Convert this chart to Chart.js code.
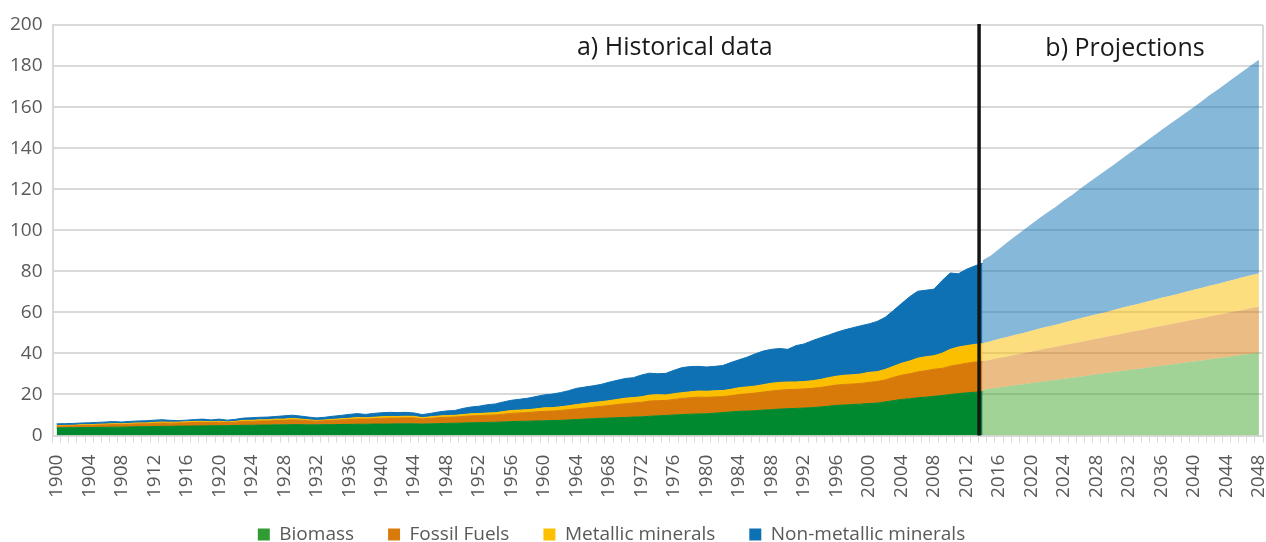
<!DOCTYPE html>
<html><head><meta charset="utf-8">
<script src="https://cdn.jsdelivr.net/npm/chart.js@4.4.1/dist/chart.umd.min.js"></script>
<style>html,body{margin:0;padding:0;background:#fff;overflow:hidden}</style>
</head><body>
<canvas id="c" width="1266" height="542"></canvas>
<script>
// ---- categories ----
const firstYear = 1900, lastYear = 2048;
const years = [];
for (let y = firstYear; y <= lastYear; y++) years.push(String(y));
const histYears = years.slice(0, 115);   // 1900..2014
const projYears = years.slice(114);      // 2014..2048

// ---- historical series (Gt), 1900..2014 ----
const histBiomass = [
 3.7,3.8,3.8,3.9,3.9,4.0,4.0,4.1,4.1,4.2,
 4.3,4.3,4.4,4.5,4.5,4.6,4.6,4.7,4.7,4.8,
 4.8,4.8,4.9,5.0,5.0,5.1,5.1,5.2,5.2,5.3,
 5.3,5.2,5.2,5.3,5.3,5.4,5.4,5.5,5.5,5.6,
 5.6,5.6,5.7,5.7,5.7,5.6,5.7,5.8,5.9,6.0,
 6.1,6.2,6.3,6.4,6.5,6.6,6.8,6.9,7.0,7.1,
 7.2,7.3,7.4,7.6,7.8,8.0,8.2,8.4,8.5,8.7,
 8.8,9.0,9.1,9.4,9.6,9.8,10.0,10.2,10.4,10.5,
 10.6,10.9,11.2,11.5,11.8,11.9,12.1,12.4,12.6,12.9,
 13.1,13.2,13.4,13.6,13.9,14.3,14.7,14.9,15.1,15.3,
 15.6,15.8,16.4,17.0,17.6,17.9,18.4,18.7,19.1,19.5,
 20.0,20.4,20.8,21.1,21.3];
const histFossil = [
 0.8,0.85,0.9,1.0,1.0,1.1,1.2,1.3,1.2,1.3,
 1.4,1.4,1.5,1.6,1.5,1.5,1.6,1.7,1.7,1.5,
 1.7,1.5,1.6,1.9,1.9,2.0,2.0,2.2,2.2,2.4,
 2.2,2.0,1.8,1.9,2.1,2.2,2.4,2.6,2.5,2.6,
 2.8,2.9,2.8,2.9,2.9,2.5,2.7,2.9,3.0,3.0,
 3.2,3.4,3.4,3.5,3.5,3.8,4.0,4.1,4.2,4.4,
 4.6,4.6,4.8,5.0,5.2,5.4,5.6,5.8,6.1,6.4,
 6.7,6.9,7.1,7.4,7.4,7.3,7.6,7.9,8.0,8.2,
 8.0,7.9,7.8,7.9,8.2,8.4,8.6,8.8,9.1,9.2,
 9.3,9.3,9.3,9.4,9.5,9.7,9.9,10.0,10.0,10.1,
 10.3,10.5,10.7,11.3,11.8,12.2,12.6,12.9,13.2,13.2,
 13.8,14.1,14.4,14.7,14.8];
const histMetallic = [
 0.3,0.3,0.3,0.35,0.35,0.4,0.4,0.4,0.4,0.4,
 0.45,0.45,0.5,0.5,0.45,0.45,0.5,0.5,0.5,0.4,
 0.45,0.35,0.4,0.5,0.5,0.55,0.55,0.6,0.6,0.65,
 0.55,0.45,0.35,0.4,0.5,0.55,0.6,0.7,0.65,0.7,
 0.75,0.8,0.8,0.8,0.75,0.6,0.7,0.8,0.85,0.85,
 0.9,1.0,1.0,1.1,1.1,1.3,1.4,1.4,1.4,1.5,
 1.7,1.7,1.8,1.9,2.1,2.2,2.3,2.3,2.4,2.5,
 2.7,2.6,2.7,2.9,2.9,2.7,2.8,2.8,2.9,3.0,
 3.0,3.0,2.9,3.1,3.3,3.4,3.4,3.6,3.8,3.8,
 3.7,3.6,3.6,3.7,3.9,4.2,4.3,4.5,4.5,4.6,
 4.9,4.8,5.1,5.4,5.8,6.2,6.7,6.8,6.6,7.4,
 8.2,8.6,8.6,8.6,8.7];
const histNonMetallic = [
 0.9,0.85,0.9,0.85,0.95,0.9,1.0,1.0,0.9,1.0,
 0.95,1.05,1.1,1.1,0.95,0.75,0.8,0.9,1.1,0.9,
 1.05,0.85,1.0,1.1,1.3,1.25,1.35,1.3,1.6,1.55,
 1.45,1.35,1.25,1.3,1.5,1.65,1.9,1.9,1.65,1.9,
 1.95,2.0,1.9,1.9,1.65,1.5,1.7,2.0,2.25,2.35,
 3.0,3.3,3.6,4.0,4.3,4.7,5.0,5.3,5.6,6.0,
 6.3,6.6,6.9,7.3,7.9,8.0,8.1,8.4,9.0,9.3,
 9.6,9.7,10.6,10.7,10.2,10.5,11.4,12.2,12.3,12.0,
 11.8,11.9,12.2,13.1,13.6,14.5,15.7,16.4,16.5,16.5,
 15.9,17.7,18.3,19.5,20.3,20.7,21.4,22.1,22.9,23.5,
 23.6,24.5,25.4,27.2,29.1,31.3,32.6,32.4,32.4,35.4,
 37.2,35.7,37.2,38.2,39.2];

// ---- projection series (Gt), 2014..2048 ----
const projBiomass = [
 22.3,22.8,23.4,23.9,24.5,25.0,25.6,26.1,26.6,27.1,
 27.7,28.2,28.7,29.3,29.8,30.3,30.8,31.4,31.9,32.4,
 32.9,33.5,34.0,34.5,35.0,35.6,36.1,36.6,37.2,37.7,
 38.2,38.8,39.3,39.9,40.4];
const projFossil = [
 13.9,14.1,14.4,14.6,14.9,15.1,15.4,15.6,15.9,16.1,
 16.4,16.6,16.9,17.1,17.4,17.6,17.9,18.1,18.4,18.6,
 18.9,19.1,19.4,19.6,19.9,20.1,20.4,20.6,20.9,21.1,
 21.4,21.6,21.9,22.1,22.3];
const projMetallic = [
 8.8,9.0,9.3,9.5,9.7,9.9,10.1,10.4,10.6,10.8,
 11.0,11.2,11.5,11.7,11.9,12.1,12.3,12.6,12.8,13.0,
 13.2,13.4,13.7,13.9,14.1,14.3,14.5,14.8,15.0,15.2,
 15.4,15.6,15.9,16.1,16.3];
const projNonMetallic = [
 40.4,41.8,43.8,46.0,48.0,50.0,52.0,53.9,55.7,57.5,
 59.4,61.2,63.1,65.0,66.8,68.7,70.6,72.4,74.3,76.2,
 78.0,79.9,81.8,83.6,85.4,87.3,89.1,91.0,92.9,94.7,
 96.6,98.5,100.3,102.2,104.1];

const seriesNames = ['Biomass','Fossil Fuels','Metallic minerals','Non-metallic minerals'];
const yTicks = [0,20,40,60,80,100,120,140,160,180,200];
const panelTitles = ['a) Historical data', 'b) Projections'];

const darkColors  = ['#00892F','#D77A0A','#FBBF00','#0E71B4'];
const lightColors = ['rgba(69,167,45,0.5)','rgba(215,122,10,0.5)','rgba(251,190,0,0.5)','rgba(14,113,180,0.5)'];
const legendColors = ['#339B33','#D97B0B','#FBC000','#0E71B4'];

const pts = (yrs, vals) => vals.map((v, i) => ({x: yrs[i], y: v}));
const histData = [histBiomass, histFossil, histMetallic, histNonMetallic];
const projData = [projBiomass, projFossil, projMetallic, projNonMetallic];

const datasets = [];
histData.forEach((arr, i) => datasets.push({
  label: seriesNames[i], data: pts(histYears, arr), stack: 'hist',
  backgroundColor: darkColors[i], borderColor: darkColors[i], borderWidth: 1,
  fill: i === 0 ? 'origin' : '-1', pointRadius: 0, tension: 0
}));
projData.forEach((arr, i) => datasets.push({
  label: seriesNames[i] + ' (projection)', data: pts(projYears, arr), stack: 'proj',
  backgroundColor: lightColors[i], borderColor: 'rgba(0,0,0,0)', borderWidth: 0,
  fill: i === 0 ? 'origin' : '-1', pointRadius: 0, tension: 0
}));

const FONT = "'Open Sans', sans-serif";
const GRID = '#d9d9d9';
const TXT = '#595959';

const decor = {
  id: 'decor',
  afterLayout(chart) {
    const lg = chart.legend;
    if (lg) {
      lg.top -= 19; lg.bottom -= 19;
      lg.left = 0; lg.right = 1223;
    }
  },
  beforeDatasetsDraw(chart) {
    const {ctx, chartArea: a} = chart;
    ctx.save();
    ctx.strokeStyle = GRID; ctx.lineWidth = 2;
    ctx.beginPath(); ctx.moveTo(a.right, a.top); ctx.lineTo(a.right, a.bottom); ctx.stroke();
    ctx.restore();
  },
  afterDatasetsDraw(chart) {
    const {ctx, chartArea: a, scales: {x}} = chart;
    const xl = x.getPixelForValue(113.55);
    ctx.save();
    ctx.strokeStyle = '#151515'; ctx.lineWidth = 3.5;
    ctx.beginPath(); ctx.moveTo(xl, a.top - 1); ctx.lineTo(xl, a.bottom); ctx.stroke();
    ctx.fillStyle = '#1a1a1a';
    ctx.font = "25px " + FONT;
    ctx.textAlign = 'center'; ctx.textBaseline = 'alphabetic';
    ctx.fillText(panelTitles[0], a.left + a.width * 0.514, 55);
    ctx.fillText(panelTitles[1], a.left + a.width * 0.886, 56);
    ctx.restore();
  }
};

Chart.defaults.font.family = FONT;
new Chart(document.getElementById('c'), {
  type: 'line',
  data: { labels: years, datasets },
  options: {
    responsive: false, animation: false, devicePixelRatio: 1,
    layout: { padding: { left: 0, right: 3, top: 25, bottom: -31 } },
    scales: {
      x: {
        type: 'category', offset: true,
        afterFit: (s) => { s.paddingLeft = 0; s.paddingRight = 0; },
        grid: { offset: true, drawOnChartArea: false, drawTicks: true, tickLength: 7, color: GRID, lineWidth: 1 },
        border: { color: GRID, width: 2 },
        ticks: {
          autoSkip: false, maxRotation: 90, minRotation: 90, color: TXT, padding: 12,
          font: { size: 19 },
          callback: function(v, i) { return i % 4 === 0 ? this.getLabelForValue(v) : ''; }
        }
      },
      y: {
        stacked: true, min: 0, max: 200,
        afterFit: (s) => { s.paddingTop = 0; s.paddingBottom = 0; },
        afterBuildTicks: (s) => { s.ticks = yTicks.map(v => ({value: v})); },
        grid: { color: GRID, lineWidth: 2, drawTicks: false },
        border: { color: GRID, width: 2 },
        ticks: { color: TXT, padding: 10, font: { size: 19 } }
      }
    },
    plugins: {
      tooltip: { enabled: false },
      legend: {
        position: 'bottom',
        labels: {
          boxWidth: 12, boxHeight: 12, padding: 34, color: TXT, font: { size: 19 },
          generateLabels: () => seriesNames.map((n, i) => ({
            text: n, fillStyle: legendColors[i], strokeStyle: legendColors[i], lineWidth: 0,
            fontColor: TXT, hidden: false, datasetIndex: i
          }))
        }
      }
    }
  },
  plugins: [decor]
});
</script>
</body></html>
